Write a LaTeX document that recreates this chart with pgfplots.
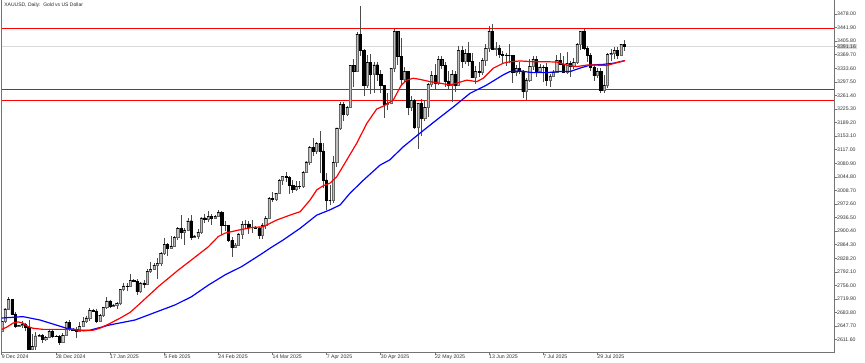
\documentclass[border=0pt]{standalone}
\usepackage{pgfplots}
\usepackage{pgfplotstable}
\pgfplotsset{compat=1.18}
\usepackage{fontspec}
\setmainfont{Liberation Sans}
\definecolor{mtred}{RGB}{255,0,0}
\definecolor{mtblue}{RGB}{0,0,255}

\pgfplotstableread{
i o h l c
0 2633 2667 2631 2660
1 2660 2696 2655 2694
2 2694 2726 2690 2718
3 2718 2721 2676 2680
4 2680 2684 2643 2648
5 2648 2652 2645 2650
6 2650 2662 2643 2652
7 2652 2656 2634 2646
8 2646 2664 2583 2587
9 2587 2626 2583 2594
10 2594 2633 2585 2622
11 2622 2626 2620 2624
12 2624 2627 2603 2612
13 2612 2622 2609 2617
14 2617 2638 2615 2633
15 2633 2637 2616 2621
16 2621 2624 2619 2620
17 2620 2625 2597 2606
18 2606 2629 2604 2624
19 2624 2662 2621 2658
20 2658 2665 2635 2640
21 2640 2642 2636 2638
22 2638 2646 2615 2635
23 2635 2660 2631 2648
24 2648 2671 2645 2661
25 2661 2675 2657 2670
26 2670 2697 2662 2690
27 2690 2693 2686 2688
28 2688 2692 2656 2662
29 2662 2679 2660 2677
30 2677 2697 2671 2697
31 2697 2724 2694 2715
32 2715 2716 2697 2702
33 2702 2707 2700 2704
34 2704 2711 2693 2708
35 2708 2746 2703 2745
36 2745 2763 2741 2755
37 2755 2763 2740 2754
38 2754 2786 2752 2770
39 2770 2774 2764 2766
40 2766 2772 2730 2740
41 2740 2765 2735 2763
42 2763 2770 2748 2760
43 2760 2800 2756 2794
44 2794 2817 2790 2798
45 2798 2815 2796 2810
46 2810 2830 2772 2815
47 2815 2845 2808 2842
48 2842 2882 2838 2866
49 2866 2869 2834 2856
50 2856 2887 2853 2861
51 2861 2888 2860 2884
52 2884 2911 2876 2908
53 2908 2942 2880 2898
54 2898 2908 2864 2904
55 2904 2935 2900 2928
56 2928 2943 2877 2883
57 2883 2890 2881 2888
58 2888 2906 2880 2898
59 2898 2939 2893 2936
60 2936 2947 2922 2933
61 2933 2955 2925 2939
62 2939 2946 2918 2936
63 2936 2943 2935 2940
64 2940 2956 2937 2951
65 2951 2954 2889 2915
66 2915 2927 2900 2916
67 2916 2918 2872 2876
68 2876 2884 2832 2857
69 2857 2868 2855 2864
70 2864 2896 2861 2893
71 2893 2928 2880 2918
72 2918 2930 2905 2920
73 2920 2927 2894 2910
74 2910 2930 2896 2910
75 2910 2914 2905 2907
76 2907 2912 2880 2889
77 2889 2921 2880 2917
78 2917 2940 2905 2934
79 2934 2990 2933 2988
80 2988 3004 2978 2984
81 2984 3002 2981 3000
82 3000 3038 2999 3035
83 3035 3047 3023 3047
84 3047 3057 3030 3043
85 3043 3047 2999 3023
86 3023 3036 3002 3011
87 3011 3034 3006 3020
88 3020 3033 3012 3019
89 3019 3060 3016 3057
90 3057 3087 3056 3085
91 3085 3128 3076 3124
92 3124 3149 3100 3113
93 3113 3137 3105 3134
94 3134 3167 3054 3114
95 3114 3136 3015 3037
96 3037 3055 2957 2982
97 2982 3023 2970 2982
98 2982 3099 2975 3083
99 3083 3176 3072 3175
100 3175 3245 3169 3237
101 3237 3245 3194 3211
102 3211 3234 3206 3229
103 3229 3343 3228 3342
104 3342 3357 3283 3326
105 3326 3430 3325 3424
106 3424 3500 3367 3381
107 3381 3386 3260 3288
108 3288 3368 3282 3349
109 3349 3371 3266 3319
110 3319 3350 3268 3343
111 3343 3349 3300 3317
112 3317 3328 3268 3288
113 3288 3290 3202 3239
114 3239 3269 3222 3241
115 3241 3335 3239 3334
116 3334 3437 3323 3431
117 3431 3434 3343 3365
118 3365 3415 3287 3305
119 3305 3336 3298 3325
120 3325 3325 3208 3231
121 3231 3260 3220 3248
122 3248 3252 3172 3178
123 3178 3240 3120 3240
124 3240 3252 3154 3201
125 3201 3250 3193 3230
126 3230 3295 3204 3290
127 3290 3325 3284 3315
128 3315 3345 3277 3294
129 3294 3366 3288 3357
130 3357 3365 3331 3342
131 3342 3349 3285 3300
132 3300 3325 3277 3288
133 3288 3330 3245 3318
134 3318 3326 3271 3289
135 3289 3392 3286 3381
136 3381 3392 3333 3353
137 3353 3385 3345 3373
138 3373 3403 3339 3352
139 3352 3375 3307 3310
140 3310 3339 3293 3326
141 3326 3349 3311 3322
142 3322 3360 3315 3355
143 3355 3398 3340 3386
144 3386 3446 3378 3432
145 3432 3452 3382 3385
146 3385 3403 3366 3388
147 3388 3396 3362 3370
148 3370 3380 3348 3369
149 3369 3375 3340 3368
150 3368 3398 3347 3368
151 3368 3370 3295 3323
152 3323 3343 3312 3333
153 3333 3350 3318 3327
154 3327 3330 3255 3273
155 3273 3308 3248 3303
156 3303 3358 3297 3338
157 3338 3365 3330 3357
158 3357 3365 3311 3326
159 3326 3345 3323 3337
160 3337 3342 3296 3336
161 3336 3347 3287 3302
162 3302 3317 3283 3313
163 3313 3330 3310 3324
164 3324 3368 3322 3355
165 3355 3375 3341 3344
166 3344 3366 3320 3324
167 3324 3377 3319 3347
168 3347 3352 3310 3339
169 3339 3361 3332 3350
170 3350 3402 3345 3397
171 3397 3434 3383 3431
172 3431 3438 3381 3387
173 3387 3394 3351 3368
174 3368 3373 3325 3337
175 3337 3345 3301 3314
176 3314 3334 3308 3326
177 3326 3334 3268 3274
178 3274 3315 3269 3289
179 3289 3375 3281 3370
180 3370 3385 3352 3373
181 3373 3391 3357 3381
182 3381 3390 3358 3369
183 3369 3398 3366 3397
184 3397 3408 3380 3391
}\ohlc

\begin{document}
\begin{tikzpicture}
\begin{axis}[
  at={(0,0)}, anchor=south west,
  scale only axis, width=832.3pt, height=354pt,
  xmin=0, xmax=245.95, ymin=2578.9, ymax=3520.5,
  axis line style={black!55, line width=0.6pt},
  tick align=outside, major tick length=3pt,
  tick style={black!55, line width=0.5pt},
  xtick pos=bottom, xticklabel pos=bottom,
  ytick pos=right, yticklabel pos=right,
  xtick={0,16,32,48,64,80,96,112,128,144,160,176},
  xticklabels={9 Dec 2024,28 Dec 2024,17 Jan 2025,5 Feb 2025,24 Feb 2025,14 Mar 2025,7 Apr 2025,30 Apr 2025,22 May 2025,13 Jun 2025,7 Jul 2025,29 Jul 2025},
  ytick={2611.6,2647.7,2683.8,2719.9,2756.0,2792.1,2828.2,2864.3,2900.4,2936.5,2972.6,3008.7,3044.8,3080.9,3117.0,3153.1,3189.2,3225.3,3261.4,3297.5,3333.6,3369.7,3405.8,3441.9,3478.0},
  yticklabels={2611.60,2647.70,2683.80,2719.90,2756.00,2792.10,2828.20,2864.30,2900.40,2936.50,2972.60,3008.70,3044.80,3080.90,3117.00,3153.10,3189.20,3225.30,3261.40,3297.50,3333.60,3369.70,3405.80,3441.90,3478.00},
  ticklabel style={font=\fontsize{5.2}{6}\selectfont, text=black!80},
  xticklabel style={anchor=north west, inner sep=0pt},
  yticklabel style={anchor=west, inner sep=0pt},
  extra y ticks={3391},
  extra y tick labels={3391.16},
  extra y tick style={yticklabel style={fill=black!15, inner sep=0.6pt, anchor=west, xshift=-0.6pt}},
  clip=true,
]
% bid line
\addplot[black!15, line width=0.8pt, mark=none] coordinates {(0,3391) (245.95,3391)};
% horizontal levels
\addplot[mtred, line width=1.3pt, mark=none] coordinates {(0,3440) (245.95,3440)};
\addplot[mtred, line width=1.3pt, mark=none] coordinates {(0,3278) (245.95,3278)};
\addplot[mtred, line width=1.3pt, mark=none] coordinates {(0,3247) (245.95,3247)};
% wicks
\addplot[draw=none, mark=none,
  error bars/.cd, y dir=plus, y explicit, error mark=none,
  error bar style={draw=black!70, line width=0.5pt}]
  table[x=i, y=l, y error plus expr={\thisrow{h}-\thisrow{l}}] {\ohlc};
% bodies
\addplot[ybar, bar width=2.2pt, bar shift=0pt, stack plots=y, draw=none, fill=none, mark=none]
  table[x=i, y expr={min(\thisrow{o},\thisrow{c})}] {\ohlc};
\addplot[ybar, bar width=2.2pt, bar shift=0pt, stack plots=y, draw=black!60, line width=0.4pt, fill=black!25, mark=none]
  table[x=i, y expr={max(\thisrow{c}-\thisrow{o},0)}] {\ohlc};
\addplot[ybar, bar width=2.2pt, bar shift=0pt, stack plots=y, draw=black, line width=0.4pt, fill=black, mark=none]
  table[x=i, y expr={max(\thisrow{o}-\thisrow{c},0)}] {\ohlc};
% moving averages
\addplot[mtblue, line width=1.2pt, stack plots=false, mark=none] coordinates {
(-0.5,2669) (6.3,2673) (11.3,2664) (19.2,2642) (23.1,2637) (26.1,2637) (32,2651) (39.4,2664) (51.2,2704) (56.1,2726) (61.1,2757) (66,2784) (70.9,2806) (76.3,2837) (79.3,2855) (83.2,2877) (88.2,2908) (93.1,2943) (97,2957) (100,2970) (102.9,3001) (106.9,3036) (111.8,3076) (114.7,3090) (118.7,3125) (123.6,3161) (128.5,3196) (133.5,3231) (138.4,3267) (143.3,3289) (148.2,3316) (150.2,3325) (153.2,3326) (157.1,3322) (161.1,3322) (165,3325) (168,3325) (170.9,3334) (173.9,3342) (177.8,3344) (180.8,3347) (184.2,3354)};
\addplot[mtred, line width=1.2pt, stack plots=false, mark=none] coordinates {
(-0.5,2637) (1.5,2645) (3.4,2656) (4.9,2659) (6.4,2655) (7.9,2646) (9.3,2642) (12.3,2639) (15.2,2639) (18.2,2639) (21.2,2639) (24.1,2635) (27.1,2637) (29,2642) (32,2655) (35,2669) (37.9,2684) (40.4,2704) (46.3,2753) (52.2,2797) (56.1,2824) (61.1,2859) (64,2886) (66,2895) (69.9,2903) (73.9,2910) (77.3,2912) (81.3,2930) (85.2,2943) (88.2,2952) (91.1,2983) (93.1,3010) (95,3021) (97,3028) (99,3045) (102,3090) (104.9,3134) (107.9,3187) (110.8,3225) (112.8,3233) (115.7,3249) (118.1,3289) (119.7,3302) (121.6,3307) (123.6,3304) (126.6,3298) (129.5,3294) (132.5,3289) (134.5,3294) (137.4,3302) (140.4,3298) (142.3,3307) (145.3,3334) (148.2,3347) (150.2,3351) (153.2,3353) (157.1,3351) (161.1,3351) (164,3350) (167,3342) (169.9,3338) (172.9,3342) (175.8,3342) (178.8,3341) (181.2,3347) (184.2,3354)};
\end{axis}
\node[anchor=west, inner sep=0pt, font=\fontsize{5}{6}\selectfont, text=black!85] at (2.5pt,347pt) {XAUUSD, Daily:\ \ Gold vs US Dollar};
\pgfresetboundingbox
\path (-1.7pt,-11pt) rectangle (863.3pt,352pt);
\end{tikzpicture}
\end{document}
